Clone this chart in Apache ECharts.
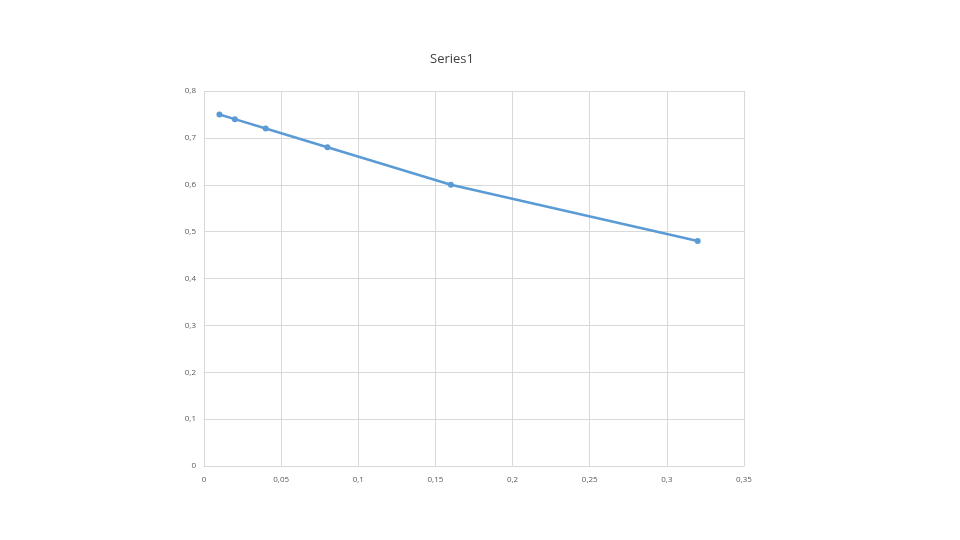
<!DOCTYPE html>
<html>
<head>
<meta charset="UTF-8">
<script src="https://cdn.jsdelivr.net/npm/echarts@6/dist/echarts.min.js"></script>
<style>html,body{margin:0;background:#fff}#main{width:960px;height:540px}</style>
</head>
<body>
<div id="main"></div>
<script>
var xValues = [0.01, 0.02, 0.04, 0.08, 0.16, 0.32];
var yValues = [0.75, 0.74, 0.72, 0.68, 0.60, 0.48];

var chart = echarts.init(document.getElementById("main"));
var fmt = function (v) { return String(Math.round(v * 100) / 100).replace(".", ","); };
var axisText = { color: "#595959", fontSize: 8, fontFamily: "Open Sans" };

chart.setOption({
    animation: false,
    title: {
        text: "Series1", left: 447, top: 48, textAlign: "center",
        textStyle: { color: "#404040", fontSize: 13, fontWeight: "normal", fontFamily: "Open Sans" }
    },
    grid: { left: 204, right: 216, top: 91, bottom: 74 },
    xAxis: {
        type: "value", min: 0, max: 0.35, interval: 0.05,
        axisLine: { lineStyle: { color: "#d9d9d9" } },
        axisTick: { show: false },
        splitLine: { lineStyle: { color: "#d9d9d9" } },
        axisLabel: Object.assign({ formatter: fmt, margin: 10 }, axisText)
    },
    yAxis: {
        type: "value", min: 0, max: 0.8, interval: 0.1,
        axisLine: { show: false },
        axisTick: { show: false },
        splitLine: { lineStyle: { color: "#d9d9d9" } },
        axisLabel: Object.assign({ formatter: fmt, margin: 8 }, axisText)
    },
    series: [{
        type: "line",
        data: xValues.map(function (x, i) { return [x, yValues[i]]; }),
        symbol: "circle", symbolSize: 6,
        lineStyle: { color: "#5b9bd5", width: 2.5 },
        itemStyle: { color: "#5b9bd5" }
    }]
});
</script>
</body>
</html>
